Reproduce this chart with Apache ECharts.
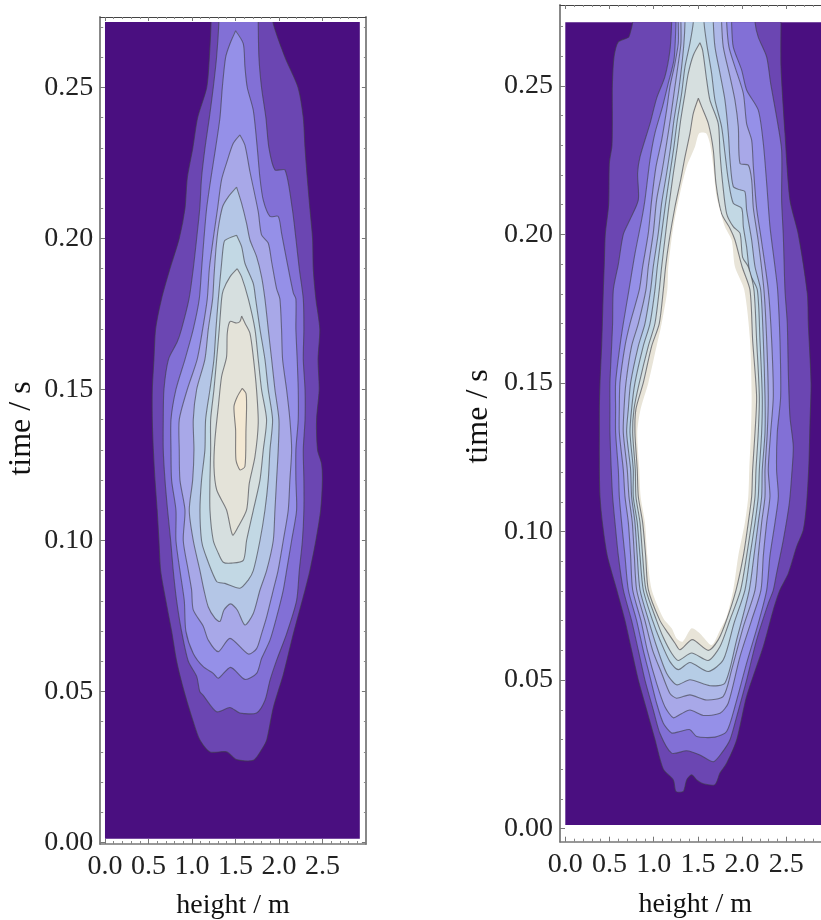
<!DOCTYPE html>
<html><head><meta charset="utf-8">
<style>html,body{margin:0;padding:0;background:#fff;overflow:hidden}#c{width:821px;height:920px}</style>
<script src="https://cdn.jsdelivr.net/npm/echarts@6/dist/echarts.min.js"></script>
</head><body><div id="c"></div>
<script>
const heightTicks=[0,0.5,1,1.5,2,2.5];
const heightMinor=[0.1,0.2,0.3,0.4,0.6,0.7,0.8,0.9,1.1,1.2,1.3,1.4,1.6,1.7,1.8,1.9,2.1,2.2,2.3,2.4,2.6,2.7,2.8,2.9];
const timeTicks=[0,0.05,0.1,0.15,0.2,0.25];
const timeMinor=[0.01,0.02,0.03,0.04,0.06,0.07,0.08,0.09,0.11,0.12,0.13,0.14,0.16,0.17,0.18,0.19,0.21,0.22,0.23,0.24,0.26,0.27];

const leftBase=[[0,0.0012],[2.93,0.0012],[2.93,0.2717],[0,0.2717]];
const leftC1=[[1.22,.2717],[1.20,.26],[1.17,.25],[1.065,.24],[1.01,.23],[.946,.22],[.92,.21],[.854,.20],[.747,.19],[.65,.18],[.582,.17],[.563,.16],[.544,.15],[.544,.14],[.556,.13],[.575,.12],[.60,.11],[.62,.10],[.64,.09],[.70,.08],[.766,.07],[.824,.06],[.91,.05],[1.015,.04],[1.09,.034],[1.207,.03],[1.40,.03],[1.51,.0275],[1.705,.0272],[1.80,.0307],[1.86,.034],[1.935,.0446],[2.05,.0556],[2.165,.069],[2.30,.0835],[2.356,.09],[2.425,.10],[2.48,.11],[2.50,.12],[2.49,.1255],[2.444,.13],[2.433,.14],[2.463,.15],[2.45,.16],[2.47,.17],[2.425,.18],[2.395,.19],[2.387,.20],[2.356,.21],[2.326,.22],[2.30,.23],[2.28,.24],[2.22,.25],[2.07,.26],[1.93,.2717]];
const leftC2=[[1.31,.2717],[1.283,.26],[1.245,.25],[1.20,.24],[1.15,.23],[1.11,.22],[1.09,.21],[1.054,.20],[1.015,.19],[.966,.18],[.88,.17],[.83,.1657],[.73,.16],[.678,.15],[.67,.14],[.67,.13],[.69,.12],[.72,.11],[.755,.10],[.785,.09],[.824,.08],[.88,.07],[.958,.06],[1.054,.055],[1.09,.05],[1.13,.0487],[1.283,.0433],[1.437,.0447],[1.55,.0429],[1.743,.0429],[1.84,.0471],[1.897,.0537],[1.973,.0603],[2.088,.0691],[2.203,.0801],[2.234,.09],[2.27,.10],[2.287,.11],[2.287,.12],[2.28,.13],[2.30,.14],[2.30,.15],[2.28,.16],[2.287,.17],[2.28,.18],[2.234,.19],[2.195,.20],[2.153,.21],[2.07,.2227],[1.954,.2227],[1.885,.23],[1.85,.24],[1.80,.25],[1.77,.26],[1.762,.2717]];
const leftC3=[[1.502,.2688],[1.437,.2645],[1.387,.26],[1.349,.25],[1.322,.24],[1.272,.23],[1.218,.22],[1.169,.21],[1.138,.20],[1.111,.19],[1.084,.18],[1.015,.17],[.92,.16],[.816,.15],[.759,.14],[.759,.13],[.766,.12],[.816,.11],[.816,.10],[.862,.09],[.912,.08],[.93,.07],[1.015,.0626],[1.13,.0582],[1.245,.056],[1.303,.0544],[1.444,.058],[1.609,.054],[1.743,.056],[1.80,.0609],[1.897,.067],[1.973,.0746],[2.05,.0836],[2.088,.09],[2.146,.10],[2.203,.11],[2.195,.12],[2.195,.13],[2.222,.14],[2.222,.15],[2.21,.16],[2.195,.17],[2.195,.18],[2.165,.182],[2.088,.193],[2.03,.2018],[1.992,.2073],[1.897,.2073],[1.82,.2127],[1.782,.22],[1.751,.23],[1.705,.2425],[1.636,.25],[1.609,.2569],[1.59,.2645]];
const leftC4=[[1.552,.2343],[1.475,.2315],[1.40,.2252],[1.34,.2194],[1.295,.21],[1.245,.20],[1.2,.19],[1.176,.18],[1.123,.17],[1.06,.16],[.946,.15],[.854,.14],[.854,.13],[.862,.12],[.92,.11],[.90,.10],[.958,.09],[.996,.0836],[1.015,.077],[1.13,.0716],[1.188,.067],[1.303,.0632],[1.437,.0676],[1.648,.0624],[1.743,.0642],[1.80,.0691],[1.858,.0746],[1.935,.0836],[1.99,.09],[2.05,.10],[2.107,.11],[2.126,.12],[2.146,.13],[2.126,.14],[2.088,.15],[2.042,.16],[2.03,.17],[2.011,.18],[1.973,.1834],[1.916,.1923],[1.877,.1985],[1.80,.2012],[1.762,.2089],[1.667,.2221],[1.609,.2309]];
const leftC5=[[1.513,.217],[1.418,.2138],[1.352,.2105],[1.303,.2035],[1.276,.1965],[1.253,.1873],[1.238,.18],[1.188,.17],[1.149,.16],[1.054,.15],[1.015,.14],[1.023,.13],[1.008,.12],[.969,.11],[1.015,.10],[1.092,.09],[1.138,.0836],[1.188,.078],[1.264,.0743],[1.322,.0732],[1.368,.077],[1.444,.079],[1.521,.077],[1.609,.072],[1.705,.0758],[1.782,.0836],[1.858,.09],[1.935,.10],[1.954,.11],[1.973,.12],[1.992,.13],[2.0,.14],[1.954,.15],[1.916,.16],[1.877,.17],[1.839,.18],[1.80,.1874],[1.743,.194],[1.667,.1995],[1.628,.205],[1.571,.2116]];
const leftC6=[[1.513,.2011],[1.379,.1994],[1.36,.1973],[1.341,.1918],[1.303,.18],[1.276,.17],[1.253,.16],[1.207,.15],[1.157,.14],[1.149,.13],[1.11,.12],[1.092,.11],[1.11,.10],[1.149,.0958],[1.284,.0864],[1.379,.0858],[1.552,.0842],[1.647,.0869],[1.705,.09],[1.782,.10],[1.839,.11],[1.877,.12],[1.897,.13],[1.927,.14],[1.877,.15],[1.839,.16],[1.782,.17],[1.732,.18],[1.705,.1851],[1.609,.1918],[1.571,.1973]];
const leftC7=[[1.521,.19],[1.437,.1873],[1.36,.1829],[1.341,.18],[1.314,.17],[1.284,.16],[1.253,.15],[1.215,.14],[1.215,.13],[1.207,.12],[1.207,.11],[1.245,.10],[1.303,.0958],[1.36,.0928],[1.456,.0925],[1.59,.0934],[1.628,.10],[1.705,.11],[1.782,.12],[1.82,.13],[1.858,.14],[1.80,.15],[1.762,.16],[1.724,.17],[1.648,.18],[1.571,.1873]];
const leftC8=[[1.571,.1743],[1.552,.1725],[1.513,.172],[1.437,.1725],[1.406,.1686],[1.398,.1608],[1.341,.1543],[1.303,.1443],[1.264,.1333],[1.253,.1245],[1.284,.1168],[1.398,.1101],[1.467,.1018],[1.533,.1046],[1.628,.1101],[1.659,.1189],[1.724,.1277],[1.762,.1388],[1.743,.1498],[1.705,.1608],[1.667,.1686],[1.609,.172]];
const leftC9=[[1.579,.1504],[1.521,.1476],[1.483,.1443],[1.502,.1366],[1.506,.1267],[1.552,.1234],[1.609,.1245],[1.621,.1366],[1.628,.1443],[1.621,.1487]];

const rightBase=[[0,0.00125],[3,0.00125],[3,0.2714],[0,0.2714]];
const rightR1=[[.762,.2714],[.732,.2676],[.713,.2663],[.60,.2648],[.551,.2597],[.532,.25],[.532,.24],[.528,.23],[.498,.2239],[.49,.21],[.452,.20],[.441,.19],[.43,.1813],[.419,.17],[.411,.1624],[.392,.15],[.385,.1412],[.385,.1333],[.385,.1208],[.392,.1118],[.419,.103],[.475,.0918],[.581,.0804],[.675,.07],[.75,.06],[.826,.05],[.92,.04],[1.014,.03],[1.109,.02],[1.222,.0164],[1.252,.0125],[1.335,.0125],[1.373,.0164],[1.429,.0181],[1.486,.0164],[1.561,.0151],[1.693,.0148],[1.75,.0187],[1.825,.022],[1.938,.0298],[2.051,.0445],[2.24,.0613],[2.353,.0736],[2.428,.0803],[2.523,.0859],[2.617,.0949],[2.692,.1005],[2.73,.1095],[2.756,.123],[2.768,.1365],[2.78,.15],[2.749,.1701],[2.738,.18],[2.636,.20],[2.541,.2116],[2.485,.234],[2.44,.2564],[2.44,.2714]];
const rightR2=[[1.203,.2714],[1.184,.262],[1.127,.2531],[1.033,.2458],[.958,.2373],[.845,.2261],[.818,.2206],[.826,.2116],[.732,.205],[.656,.20],[.60,.19],[.543,.1813],[.535,.17],[.524,.1624],[.505,.15],[.505,.1412],[.505,.1333],[.52,.1208],[.535,.1118],[.562,.103],[.60,.0918],[.656,.0804],[.75,.07],[.826,.06],[.901,.05],[.995,.04],[1.071,.032],[1.203,.0254],[1.373,.0262],[1.523,.0248],[1.674,.0225],[1.768,.0254],[1.863,.0299],[1.938,.0376],[2.051,.05],[2.164,.0635],[2.296,.0758],[2.353,.0803],[2.39,.0859],[2.466,.0971],[2.534,.1095],[2.56,.1185],[2.579,.1286],[2.541,.1387],[2.523,.1533],[2.511,.1701],[2.485,.1813],[2.466,.1996],[2.447,.2116],[2.447,.2284],[2.39,.2396],[2.323,.2508],[2.278,.2597],[2.183,.2664],[2.146,.2714]];
const rightR3=[[1.252,.2714],[1.23,.2589],[1.165,.2509],[1.10,.243],[1.014,.2341],[.958,.2251],[.901,.2116],[.864,.205],[.788,.1935],[.72,.1813],[.656,.17],[.618,.1624],[.569,.15],[.569,.1412],[.569,.1333],[.60,.1208],[.611,.1118],[.637,.103],[.675,.0918],[.713,.0804],[.807,.07],[.882,.06],[.958,.0511],[1.033,.0422],[1.109,.0355],[1.203,.0322],[1.297,.0327],[1.41,.0333],[1.486,.031],[1.693,.0308],[1.825,.0327],[1.919,.0411],[2.051,.0557],[2.183,.0691],[2.278,.0803],[2.315,.0918],[2.372,.103],[2.41,.1118],[2.39,.1208],[2.398,.1333],[2.436,.1454],[2.428,.1645],[2.402,.1813],[2.372,.1891],[2.315,.2027],[2.278,.2172],[2.24,.2306],[2.183,.2418],[2.051,.2486],[1.995,.2553],[1.90,.2631],[1.881,.2714]];
const rightR4=[[1.278,.2714],[1.278,.2643],[1.24,.2575],[1.184,.2497],[1.146,.2418],[1.09,.2317],[1.026,.2228],[.977,.2116],[.939,.2004],[.875,.1891],[.837,.1813],[.732,.17],[.675,.1624],[.618,.15],[.611,.1412],[.611,.1333],[.656,.1208],[.675,.1118],[.713,.103],[.739,.0918],[.762,.0804],[.856,.07],[.928,.06],[1.033,.0489],[1.127,.041],[1.222,.0373],[1.297,.0384],[1.41,.0399],[1.561,.0381],[1.75,.0388],[1.844,.0423],[1.976,.0579],[2.108,.0702],[2.213,.0803],[2.24,.0918],[2.278,.103],[2.315,.1118],[2.296,.1208],[2.323,.1333],[2.353,.1454],[2.334,.1645],[2.296,.1813],[2.22,.1977],[2.164,.2089],[2.127,.2228],[2.108,.2317],[2.051,.2373],[2.014,.2474],[1.919,.2564],[1.851,.2631],[1.825,.2714]];
const rightR5=[[1.308,.2714],[1.308,.2643],[1.278,.2575],[1.24,.2497],[1.192,.2395],[1.146,.2306],[1.09,.2205],[1.033,.2116],[.995,.2004],[.939,.1891],[.912,.1813],[.826,.17],[.75,.1624],[.686,.15],[.664,.1412],[.656,.1333],[.701,.1208],[.72,.1118],[.758,.103],[.781,.0918],[.807,.0804],[.901,.07],[.988,.06],[1.09,.0523],[1.184,.0455],[1.259,.0439],[1.41,.045],[1.599,.0433],[1.787,.0445],[1.882,.0535],[2.014,.068],[2.146,.0803],[2.183,.0918],[2.221,.103],[2.259,.1118],[2.259,.1208],[2.285,.1333],[2.296,.1454],[2.278,.1645],[2.247,.1813],[2.183,.1977],[2.127,.2089],[2.108,.2183],[2.07,.2233],[1.976,.2239],[1.957,.2362],[1.919,.2452],[1.863,.2531],[1.787,.2631],[1.768,.2714]];
const rightR6=[[1.354,.2714],[1.342,.2643],[1.316,.2564],[1.278,.2474],[1.229,.2384],[1.192,.2295],[1.146,.2205],[1.09,.2105],[1.052,.2004],[.995,.1891],[.965,.1813],[.901,.17],[.826,.1624],[.739,.15],[.713,.1412],[.694,.1333],[.739,.1208],[.75,.1118],[.788,.103],[.814,.0918],[.845,.0804],[.943,.07],[1.033,.0613],[1.146,.0523],[1.259,.0484],[1.41,.0501],[1.637,.0481],[1.806,.049],[1.938,.0635],[2.081,.0803],[2.134,.0918],[2.183,.103],[2.221,.1118],[2.228,.1208],[2.259,.1333],[2.259,.1454],[2.24,.1645],[2.21,.1813],[2.146,.1891],[2.108,.1981],[2.051,.2082],[2.032,.2144],[1.976,.215],[1.90,.2161],[1.863,.2251],[1.844,.2341],[1.806,.2452],[1.75,.2542],[1.693,.2631],[1.674,.2714]];
const rightR7=[[1.448,.2714],[1.41,.2643],[1.354,.2564],[1.316,.2474],[1.267,.2384],[1.229,.2295],[1.184,.2205],[1.135,.2105],[1.09,.2004],[1.041,.1891],[1.014,.1813],[.958,.17],[.882,.1624],[.788,.15],[.75,.1412],[.732,.1333],[.769,.1208],[.769,.1118],[.814,.103],[.845,.0918],[.882,.0804],[.988,.07],[1.071,.0635],[1.184,.0562],[1.278,.0535],[1.41,.0559],[1.618,.0529],[1.787,.0568],[1.908,.0691],[2.032,.0803],[2.089,.0918],[2.146,.103],[2.183,.1118],[2.195,.1208],[2.221,.1333],[2.228,.1454],[2.202,.1645],[2.172,.1813],[2.089,.1868],[2.051,.1958],[2.014,.2026],[1.995,.2088],[1.90,.2105],[1.844,.2183],[1.806,.2273],[1.768,.2362],[1.693,.2452],[1.655,.2542],[1.599,.2643],[1.569,.2714]];
const rightR8=[[1.523,.2645],[1.448,.2603],[1.391,.2542],[1.354,.2474],[1.305,.2384],[1.267,.2295],[1.222,.2205],[1.176,.2105],[1.135,.2004],[1.09,.1891],[1.063,.1813],[1.014,.17],[.939,.1624],[.837,.15],[.777,.1412],[.762,.1333],[.792,.1208],[.799,.1118],[.845,.103],[.875,.0918],[.912,.0804],[1.033,.07],[1.109,.0643],[1.203,.059],[1.278,.0566],[1.429,.0591],[1.618,.0566],[1.75,.0613],[1.863,.0703],[1.983,.0803],[2.051,.0918],[2.108,.103],[2.146,.1118],[2.157,.1208],[2.183,.1333],[2.195,.1454],[2.164,.1645],[2.134,.1813],[2.07,.1891],[2.006,.1923],[1.976,.2004],[1.90,.2026],[1.825,.207],[1.78,.2172],[1.75,.2273],[1.73,.2373],[1.636,.2452],[1.599,.252],[1.553,.262]];
const rightR9=[[1.505,.2458],[1.448,.2407],[1.41,.234],[1.354,.2261],[1.305,.2183],[1.241,.2093],[1.176,.1981],[1.135,.1891],[1.109,.1813],[1.063,.17],[.977,.1624],[.882,.15],[.799,.1412],[.788,.1333],[.814,.1208],[.826,.1118],[.875,.103],[.909,.0918],[.939,.0804],[1.071,.07],[1.165,.0657],[1.241,.0624],[1.297,.0602],[1.437,.0636],[1.618,.06],[1.731,.0636],[1.825,.0703],[1.931,.0803],[2.014,.0918],[2.07,.103],[2.108,.1118],[2.119,.1208],[2.146,.1333],[2.164,.1454],[2.119,.1645],[2.089,.1813],[2.0,.1891],[1.919,.1981],[1.863,.202],[1.768,.207],[1.704,.2172],[1.674,.2284],[1.618,.2373],[1.542,.243]];
const rightCore=[[1.515,.234],[1.467,.2295],[1.373,.2228],[1.297,.2138],[1.222,.2026],[1.165,.1891],[1.154,.1813],[1.09,.17],[1.033,.1624],[.939,.15],[.852,.1412],[.814,.1333],[.837,.1208],[.852,.1118],[.901,.103],[.928,.0918],[.977,.0804],[1.109,.0708],[1.203,.0674],[1.259,.064],[1.327,.0629],[1.429,.0674],[1.523,.0657],[1.655,.0618],[1.75,.0668],[1.825,.0713],[1.9,.0803],[1.957,.0918],[2.032,.103],[2.07,.1118],[2.081,.1208],[2.1,.1333],[2.108,.1454],[2.089,.1645],[2.025,.1813],[1.919,.1891],[1.882,.1981],[1.806,.2026],[1.712,.2127],[1.674,.2228],[1.636,.2306],[1.592,.234]];

const leftColors=['#4a0f80','#6b46b2','#8270d6','#9590e8','#a8a8e8','#b4c6e6','#c2d8e4','#d6dfdf','#e4e3d9','#f3e8d3'];
const rightColors=['#4a0f80','#6b46b2','#8270d6','#9590e8','#a8a8e8','#aeb8e8','#b6cde6','#c2d8e4','#d6dfdf','#e8e4d8','#ffffff'];
const leftContours=[leftBase,leftC1,leftC2,leftC3,leftC4,leftC5,leftC6,leftC7,leftC8,leftC9];
const rightContours=[rightBase,rightR1,rightR2,rightR3,rightR4,rightR5,rightR6,rightR7,rightR8,rightR9,rightCore];

const serif='"Liberation Serif","Times New Roman",serif';
const chart=echarts.init(document.getElementById('c'),null,{renderer:'canvas'});

const xAxes=[],yAxes=[],grids=[],series=[];
function addPanel(p){
  const g=grids.length;
  grids.push({left:p.left,top:p.top,width:p.width,height:p.height,containLabel:false,outerBoundsMode:'none'});
  const xi=xAxes.length,yi=yAxes.length;
  const xBase={type:'value',gridIndex:g,min:p.xMin,max:p.xMax,splitLine:{show:false},axisPointer:{show:false}};
  const yBase={type:'value',gridIndex:g,min:p.yMin,max:p.yMax,splitLine:{show:false},axisPointer:{show:false}};
  xAxes.push(Object.assign({},xBase,{position:'bottom',name:'height / m',nameLocation:'middle',nameGap:p.xNameGap,
    nameTextStyle:{fontFamily:serif,fontSize:p.nameSize,color:'#111'},
    axisLine:{show:true,onZero:false,lineStyle:{color:'#777',width:1.5}},
    axisTick:{show:true,inside:true,length:5,customValues:heightTicks,lineStyle:{color:'#777'}},
    axisLabel:{show:true,margin:p.xLabelMargin,customValues:heightTicks,formatter:v=>v.toFixed(1),fontFamily:serif,fontSize:p.tickSize,color:'#222',hideOverlap:false}}));
  xAxes.push(Object.assign({},xBase,{position:'bottom',axisLine:{show:false,onZero:false},axisLabel:{show:false},
    axisTick:{show:true,inside:true,length:3,customValues:heightMinor,lineStyle:{color:'#888'}}}));
  xAxes.push(Object.assign({},xBase,{position:'top',axisLine:{show:true,onZero:false,lineStyle:{color:'#444',width:1}},axisLabel:{show:false},
    axisTick:{show:true,inside:true,length:4,customValues:heightTicks,lineStyle:{color:'#777'}}}));
  xAxes.push(Object.assign({},xBase,{position:'top',axisLine:{show:false,onZero:false},axisLabel:{show:false},
    axisTick:{show:true,inside:true,length:2,customValues:heightMinor,lineStyle:{color:'#888'}}}));
  yAxes.push(Object.assign({},yBase,{position:'left',name:'time / s',nameLocation:'middle',nameGap:p.yNameGap,nameRotate:90,
    nameTextStyle:{fontFamily:serif,fontSize:p.yNameSize,color:'#111',padding:p.yNamePadding},
    axisLine:{show:true,onZero:false,lineStyle:{color:'#888',width:2}},
    axisTick:{show:true,inside:true,length:5,customValues:timeTicks,lineStyle:{color:'#777'}},
    axisLabel:{show:true,margin:p.yLabelMargin,customValues:timeTicks,formatter:v=>v.toFixed(2),fontFamily:serif,fontSize:p.tickSize,color:'#222',hideOverlap:false}}));
  yAxes.push(Object.assign({},yBase,{position:'left',axisLine:{show:false,onZero:false},axisLabel:{show:false},
    axisTick:{show:true,inside:true,length:3,customValues:timeMinor,lineStyle:{color:'#888'}}}));
  yAxes.push(Object.assign({},yBase,{position:'right',axisLine:{show:true,onZero:false,lineStyle:{color:'#888',width:2}},axisLabel:{show:false},
    axisTick:{show:true,inside:true,length:4,customValues:timeTicks,lineStyle:{color:'#777'}}}));
  yAxes.push(Object.assign({},yBase,{position:'right',axisLine:{show:false,onZero:false},axisLabel:{show:false},
    axisTick:{show:true,inside:true,length:2,customValues:timeMinor,lineStyle:{color:'#888'}}}));
  const base=p.contours[0];
  const top=base[2][1];
  series.push({type:'custom',coordinateSystem:'cartesian2d',xAxisIndex:xi,yAxisIndex:yi,clip:true,silent:true,animation:false,
    data:p.contours.map((c,i)=>[i]),
    encode:{x:0,y:0},
    renderItem:(params,api)=>{
      const i=params.dataIndex, c=p.contours[i];
      if(i===0){
        return {type:'polygon',shape:{points:c.map(q=>api.coord(q))},style:{fill:p.colors[0]}};
      }
      const first=c[0],last=c[c.length-1];
      const openTop=first[1]===top;
      // contours cut by the top of the plot run a little past it, so the smoothing closes outside the clip
      const ring=openTop?[[first[0],top+0.006]].concat(c,[[last[0],top+0.006]]):c;
      const pts=ring.map(q=>api.coord(q));
      const tl=api.coord([base[0][0],top]), br=api.coord([base[1][0],base[0][1]]);
      return {type:'group',
        clipPath:{type:'rect',shape:{x:tl[0],y:tl[1],width:br[0]-tl[0],height:br[1]-tl[1]}},
        children:[
          {type:'polygon',shape:{points:pts,smooth:0.25},style:{fill:p.colors[i]}},
          ...(i<p.lined?[{type:'polyline',shape:{points:openTop?pts:pts.concat([pts[0]]),smooth:0.25},
            style:{fill:null,stroke:'rgba(62,62,70,0.62)',lineWidth:1.1}}]:[])
        ]};
    }});
}
addPanel({left:100.2,top:17,width:265.7,height:827,xMin:-0.055,xMax:3.0,yMin:-0.0005,yMax:0.27334,contours:leftContours,colors:leftColors,lined:10,
  tickSize:28,nameSize:28,yNameSize:32,xLabelMargin:9,yLabelMargin:7,xNameGap:48,yNameGap:63,yNamePadding:[0,0,0,4]});
addPanel({left:560,top:5,width:270.5,height:836.7,xMin:-0.06,xMax:3.0,yMin:-0.0044,yMax:0.2772,contours:rightContours,colors:rightColors,lined:10,
  tickSize:28,nameSize:28,yNameSize:32,xLabelMargin:9,yLabelMargin:7,xNameGap:49,yNameGap:65,yNamePadding:[0,0,0,14]});

chart.setOption({animation:false,backgroundColor:'#fff',grid:grids,xAxis:xAxes,yAxis:yAxes,series});
</script></body></html>
